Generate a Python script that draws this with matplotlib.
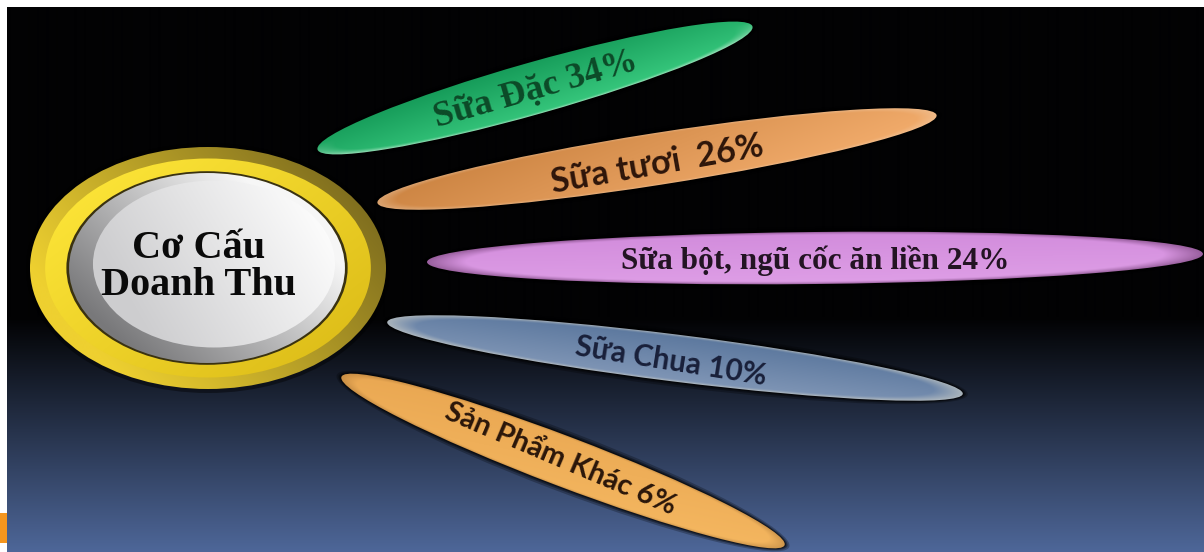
import numpy as np
import matplotlib
matplotlib.use("Agg")
import matplotlib.pyplot as plt
from matplotlib.patches import Ellipse, Rectangle

# ---------------- data ----------------
categories = ["Sữa Đặc", "Sữa tươi", "Sữa bột, ngũ cốc ăn liền", "Sữa Chua", "Sản Phẩm Khác"]
shares = [34, 26, 24, 10, 6]
gaps = [" ", "  ", " ", " ", " "]
center_title = "Cơ Cấu\nDoanh Thu"

# ---------------- layout (pixels) ----------------
W, H = 1204, 552
petal_cx = [535, 657, 815, 675, 563]
petal_cy = [88, 159, 258, 358, 461]
petal_len = [452, 566, 776, 580, 474]
petal_thk = [52, 52, 52, 47, 50]
petal_ang = [15.8, 8.9, 0.6, -7.1, -20.8]
text_x = [536, 657, 815, 671, 560]
text_y = [90, 164, 261, 361, 459]
text_rot = [16, 10, 0, -9, -23]
text_serif = [True, False, True, False, False]
text_size = [26, 24.5, 22.5, 21.5, 21]
text_color = ["#0c4a28", "#2d150a", "#231423", "#19203a", "#2a160a"]


def lerp(c1, c2, t):
    c1 = np.array(c1, float) / 255.0
    c2 = np.array(c2, float) / 255.0
    t = np.clip(t, 0, 1)[..., None]
    return c1 * (1 - t) + c2 * t


def grad_ellipse(ax, cx, cy, w, h, ang, func, z):
    e = Ellipse((cx, cy), w, h, angle=-ang, facecolor="none", edgecolor="none", zorder=z)
    ax.add_patch(e)
    R = max(w, h) / 2 + 3
    x0, x1, y0, y1 = cx - R, cx + R, cy - R, cy + R
    n = int(2 * R) + 1
    X, Y = np.meshgrid(np.linspace(x0, x1, n), np.linspace(y0, y1, n))
    th = np.radians(ang)
    dx, dy = X - cx, Y - cy
    u = (dx * np.cos(th) - dy * np.sin(th)) / (w / 2)
    v = (-dx * np.sin(th) - dy * np.cos(th)) / (h / 2)
    rgb = np.clip(func(u, v), 0, 1)
    im = ax.imshow(rgb, extent=(x0, x1, y1, y0), origin="upper", zorder=z,
                   interpolation="bilinear")
    im.set_clip_path(e)
    return e


fig = plt.figure(figsize=(W / 100, H / 100), dpi=100, facecolor="white")
ax = fig.add_axes([0, 0, 1, 1])
ax.axis("off")

# background gradient
ys = np.arange(7, H) + 0.5
t = (ys - 318) / (H - 318)
bg = lerp((2, 2, 3), (78, 103, 153), t)
bg = np.repeat(bg[:, None, :], 2, axis=1)
ax.imshow(bg, extent=(7, W, H, 7), origin="upper", zorder=0, interpolation="bilinear",
          aspect="auto")
ax.add_patch(Rectangle((0, 513), 7, 30, facecolor="#f5961e", edgecolor="none", zorder=1))

# ---------------- petals ----------------
def f_green(u, v):
    c = lerp((18, 150, 85), (55, 200, 125), (1 - v) / 2 * 0.8 + (u + 1) / 2 * 0.3)
    r = np.sqrt(u ** 2 + v ** 2)
    rim = np.clip((r - 0.92) / 0.08, 0, 1) * np.clip(-v * 1.5 + 0.3, 0, 1) * 0.6
    return c * (1 - rim[..., None]) + np.array([0.85, 0.95, 0.88]) * rim[..., None]


def f_orange(u, v):
    c = lerp((200, 128, 62), (242, 172, 108), (u + 1) / 2 * 0.8 + (1 - v) / 2 * 0.3)
    r = np.sqrt(u ** 2 + v ** 2)
    rim = np.clip((r - 0.93) / 0.07, 0, 1) * 0.35
    return c * (1 - rim[..., None]) + np.array([0.95, 0.85, 0.75]) * rim[..., None]


def f_pink(u, v):
    c = lerp((210, 140, 220), (222, 158, 230), (1 - v) / 2)
    r = np.sqrt(u ** 2 + v ** 2)
    dark = np.clip((r - 0.9) / 0.1, 0, 1) * 0.45
    return c * (1 - dark[..., None]) + np.array([0.3, 0.12, 0.3]) * dark[..., None]


def f_blue(u, v):
    c = lerp((92, 120, 158), (128, 150, 182), (1 - v) / 2)
    r = np.sqrt(u ** 2 + v ** 2)
    rim = np.clip((r - 0.9) / 0.1, 0, 1) * 0.6
    return c * (1 - rim[..., None]) + np.array([0.82, 0.82, 0.78]) * rim[..., None]


def f_orange2(u, v):
    c = lerp((232, 165, 80), (246, 185, 98), (u + 1) / 2 * 0.6 + (1 - v) / 2 * 0.4)
    r = np.sqrt(u ** 2 + v ** 2)
    dark = np.clip((r - 0.93) / 0.07, 0, 1) * 0.25
    return c * (1 - dark[..., None]) + np.array([0.4, 0.25, 0.1]) * dark[..., None]


petal_funcs = [f_green, f_orange, f_pink, f_blue, f_orange2]

for i in range(len(categories)):
    # soft dark shadow
    for k, a in [(10, 0.25), (6, 0.35), (3, 0.5)]:
        ax.add_patch(Ellipse((petal_cx[i], petal_cy[i]), petal_len[i] + k, petal_thk[i] + k,
                             angle=-petal_ang[i], facecolor="black", edgecolor="none",
                             alpha=a, zorder=2))
    grad_ellipse(ax, petal_cx[i], petal_cy[i], petal_len[i], petal_thk[i], petal_ang[i],
                 petal_funcs[i], 3)
    label = f"{categories[i]}{gaps[i]}{shares[i]}%"
    if text_serif[i]:
        fam = ["Liberation Serif", "DejaVu Serif"]
    else:
        fam = ["Lato", "Open Sans", "DejaVu Sans"]
    ax.text(text_x[i], text_y[i], label, rotation=text_rot[i], rotation_mode="anchor",
            ha="center", va="center", fontsize=text_size[i], fontweight="bold",
            family=fam, color=text_color[i], zorder=6)

# ---------------- central badge ----------------
ccx, ccy = 208, 268
ORX, ORY = 356, 242


def f_outer(u, v):
    t = 0.55 - 0.45 * u - 0.25 * v
    return lerp((125, 108, 30), (238, 208, 48), t)


def f_band(u, v):
    t = 0.5 - 0.35 * u + 0.3 * v
    return lerp((222, 190, 25), (252, 228, 55), t)


def f_silver(u, v):
    t = 0.55 + 0.45 * u + 0.35 * v
    return lerp((120, 120, 122), (246, 246, 246), t)


def f_inner(u, v):
    t = 0.45 + 0.5 * u + 0.2 * v
    return lerp((205, 205, 207), (252, 252, 252), t)


ax.add_patch(Ellipse((ccx, ccy), ORX + 8, ORY + 8, facecolor="black", alpha=0.4,
                     edgecolor="none", zorder=3))
grad_ellipse(ax, ccx, ccy, ORX, ORY, 0, f_outer, 4)
grad_ellipse(ax, ccx, ccy, ORX * 0.915, ORY * 0.905, 0, f_band, 4.1)
ax.add_patch(Ellipse((ccx - 1, ccy), ORX * 0.79, ORY * 0.80, facecolor="#3a3210",
                     edgecolor="none", zorder=4.2))
grad_ellipse(ax, ccx - 1, ccy, ORX * 0.775, ORY * 0.785, 0, f_silver, 4.3)
grad_ellipse(ax, ccx + 6, ccy - 4, ORX * 0.68, ORY * 0.69, 0, f_inner, 4.4)

ax.text(ccx - 9, ccy - 1, center_title, ha="center", va="center", fontsize=29,
        fontweight="bold", family=["Liberation Serif", "DejaVu Serif"], color="#0a0a0a",
        linespacing=1.0, zorder=7)

ax.set_xlim(0, W)
ax.set_ylim(H, 0)
ax.set_aspect("auto")
fig.savefig("out.png", dpi=100, facecolor="white")
